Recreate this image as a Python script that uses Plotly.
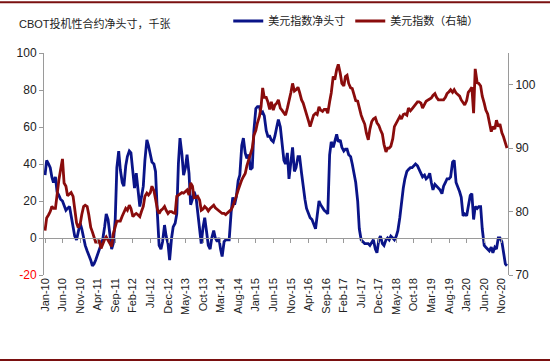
import plotly.graph_objects as go
import pandas as pd

# ---- data (semi-monthly, Jan-2010 .. Dec-2020) ----
start_date = "2010-01-01"
n_points = 264
dates = pd.date_range(start_date, periods=n_points, freq="SMS")

# CBOT speculative net position on USD index, thousand contracts (left axis)
net_position = [
    34, 42, 40, 38, 33, 30, 33, 25, 23, 21,
    20, 18, 15, 16, 17, 12, 5, 1, -1, 3,
    8, 5, 0, -4, -7, -9, -12, -15, -14, -12,
    -9, -6, -3, -1, 6, 13, 10, 3, -6, -3,
    10, 38, 47, 37, 30, 28, 39, 44, 47, 46,
    35, 27, 35, 25, 17, 22, 28, 42, 53, 50,
    44, 41, 40, 36, 12, -4, -6, -2, 7, 1,
    -3, -12, 0, 6, 8, 13, 40, 54, 45, 34,
    38, 45, 35, 18, 21, 25, 22, 13, 6, -3,
    6, 11, 3, -4, -6, 0, 4, 0, -2, 0,
    -6, -10, -2, -1, -1, -1, 14, 22, 18, 22,
    31, 34, 50, 54, 46, 43, 45, 37, 38, 58,
    70, 71, 71, 67, 68, 66, 58, 55, 55, 53,
    52, 55, 60, 64, 60, 52, 42, 40, 46, 32,
    42, 49, 36, 38, 44, 44, 35, 27, 21, 16,
    13, 11, 10, 8, 5, 12, 20, 18, 16, 15,
    14, 13, 45, 52, 49, 53, 56, 52, 53, 49,
    47, 48, 48, 45, 44, 40, 35, 30, 20, 5,
    -1, -2, -3, -3, -3, -4, -2, -1, -6, -8,
    -1, 1, -3, -4, -1, 0, -1, 1, 0, -1,
    1, 4, 11, 20, 27, 32, 36, 37, 38, 38,
    39, 40, 39, 37, 35, 33, 34, 32, 33, 35,
    30, 26, 29, 28, 27, 26, 24, 28, 30, 32,
    32, 33, 41, 42, 30, 28, 25, 22, 12, 13,
    12, 17, 23, 24, 10, 17, 16, 17, 17, 5,
    -4, -5, -6, -7, -5, -8, -5, -6, 0, 0,
    -2, -8, -14, -15,
]

# US dollar index (right axis)
dollar_index = [
    77, 79, 79.5, 80, 80.8, 80.5, 80.5, 83, 85, 86.5,
    88.3, 84.5, 84, 82.5, 82.8, 83, 82.4, 80.3, 78.2, 77.5,
    78, 79.5, 80.8, 81, 80.8, 79.5, 77.5, 76.8, 76, 75.2,
    75.2, 75.5, 74.2, 75, 75.6, 76, 75.5, 75, 74.5, 76.5,
    77.5, 78.5, 78.5, 78.5, 79.3, 79.8, 80.5, 80.2, 81, 80.5,
    79.2, 79.5, 79.7, 79.5, 79.2, 80, 80.8, 82.4, 82.9, 82.6,
    83, 84, 83.3, 82, 80.3, 79.7, 80.2, 80.4, 80.8, 80.2,
    79.7, 80, 80, 79.8, 79.7, 82.4, 82.6, 82.9, 83, 82.9,
    83.2, 83.4, 82.6, 84.5, 84, 82.2, 82.2, 82.4, 81.8, 80.2,
    80.4, 80.8, 80.5, 80.1, 80.5, 80.8, 81, 80.6, 80.3, 80.1,
    79.8, 79.7, 79.7, 79.5, 79.8, 80.1, 80.3, 80.8, 81.5, 82.4,
    83.4, 84.2, 85, 85.5, 86, 87.2, 88.2, 88.8, 90, 92,
    92.8, 94, 95, 96.5, 99.5, 98, 98, 97.3, 96.1, 97.3,
    96, 96.8, 97.1, 97.6, 96.3, 96, 95.5, 95.2, 96.3, 97.3,
    98.8, 100.2, 99, 99.2, 99.6, 98.8, 97.6, 97.1, 96.1, 95,
    94.3, 93.4, 94.2, 95.2, 95.5, 95.3, 96.5, 96, 95.8, 96.1,
    96.1, 95.5, 97.3, 98.7, 101.3, 100.8, 102.4, 103.2, 101.8, 100.2,
    99.8, 101.3, 101.5, 100.2, 99.5, 99.4, 98.4, 97.5, 97.4, 96.2,
    95.2, 94.5, 93.8, 92.4, 91.3, 93, 94.2, 94.6, 94.8, 94,
    93.6, 92.9, 92.2, 90.6, 89.4, 90, 90, 90.3, 91.5, 93.4,
    94, 94.5, 95, 94.6, 95.3, 95.4, 95.2, 96.3, 95.9, 96.2,
    96.6, 96.8, 97.3, 97.3, 97.1, 96.3, 97, 97.4, 97.6, 97.8,
    97.9, 98.3, 98.6, 98, 97.6, 97.6, 97.6, 97.6, 98, 98.6,
    98.9, 99.2, 98.8, 99.2, 98.7, 98.5, 98.2, 97.6, 97.1, 96.8,
    97.5, 98.8, 99.2, 99.6, 95.5, 102.5, 100.3, 100.2, 99.8, 98.2,
    97.1, 96, 95.4, 94.2, 92.6, 93.4, 93, 94.4, 93.4, 93.8,
    92.4, 91.8, 90.8, 90,
]

left_ticks = [-20, 0, 20, 40, 60, 80, 100]
right_ticks = [70, 80, 90, 100]
right_range = [70, 105]
series_names = ["美元指数净头寸", "美元指数（右轴）"]
title_text = "CBOT投机性合约净头寸，千张"

# ---- figure ----
BLUE = "#0A1488"
RED = "#8A0C0C"
AXIS = "#9a9a9a"
FONT = "Liberation Sans, Arial, Noto Sans CJK SC, sans-serif"
CJK = "Noto Sans CJK SC, sans-serif"

x_range = ["2009-12-23", "2020-12-24"]

fig = go.Figure()
fig.add_trace(go.Scatter(x=dates, y=net_position, name=series_names[0], mode="lines",
                         line=dict(color=BLUE, width=2.8), yaxis="y"))
fig.add_trace(go.Scatter(x=dates, y=dollar_index, name=series_names[1], mode="lines",
                         line=dict(color=RED, width=2.8), yaxis="y2"))
# empty helper trace so the zero-line axis (x2) is rendered
fig.add_trace(go.Scatter(x=[dates[0]], y=[None], xaxis="x2", yaxis="y",
                         showlegend=False, hoverinfo="skip", mode="lines"))

left_text = [f'<span style="color:#ff0000">{v}</span>' if v < 0 else str(v) for v in left_ticks]

fig.update_layout(
    width=550, height=362,
    margin=dict(l=44, r=42, t=53, b=87, autoexpand=False),
    paper_bgcolor="white", plot_bgcolor="white",
    font=dict(family=FONT, size=12, color="#222"),
    showlegend=True,
    legend=dict(orientation="h", xref="container", yref="container",
                x=0.415, y=0.942, xanchor="left", yanchor="middle",
                font=dict(family=CJK, size=11, color="#222"), itemwidth=30,
                bgcolor="rgba(0,0,0,0)", tracegroupgap=0),
    xaxis=dict(type="date", range=x_range, tick0=start_date, dtick="M5",
               tickformat="%b-%y", tickangle=-90, ticks="", showline=False,
               showgrid=False, zeroline=False, automargin=False,
               tickfont=dict(size=11, color="#222")),
    xaxis2=dict(type="date", range=x_range, overlaying="x", anchor="free",
                position=(0 - left_ticks[0]) / (left_ticks[-1] - left_ticks[0]),
                tick0=start_date, dtick="M5", ticks="outside", ticklen=4,
                tickcolor=AXIS, showline=True, linecolor=AXIS, linewidth=1,
                showticklabels=False, showgrid=False, zeroline=False),
    yaxis=dict(range=[left_ticks[0], left_ticks[-1]], tickvals=left_ticks, ticktext=left_text,
               showline=True, linecolor=AXIS, ticks="outside", ticklen=4, tickcolor=AXIS,
               showgrid=False, zeroline=False, automargin=False,
               tickfont=dict(size=12, color="#222")),
    yaxis2=dict(range=right_range, tickvals=right_ticks, overlaying="y", side="right",
                anchor="x", showline=True, linecolor=AXIS, ticks="outside", ticklen=4,
                tickcolor=AXIS, showgrid=False, zeroline=False, automargin=False,
                tickfont=dict(size=12, color="#222")),
)

fig.add_annotation(text=title_text, xref="paper", yref="paper", x=-0.058, y=1.135,
                   xanchor="left", yanchor="middle", showarrow=False,
                   font=dict(family=FONT, size=11, color="#222"))

# decorative report frame lines (top and bottom)
for yp in (1.229, -0.383):
    fig.add_shape(type="line", xref="paper", yref="paper", x0=-0.095, x1=1.091,
                  y0=yp, y1=yp, line=dict(color="#7A1010", width=2))

fig.write_html("out.html", config={"displayModeBar": False},
               post_script="document.body.style.margin='0px';document.body.style.overflow='hidden';")
